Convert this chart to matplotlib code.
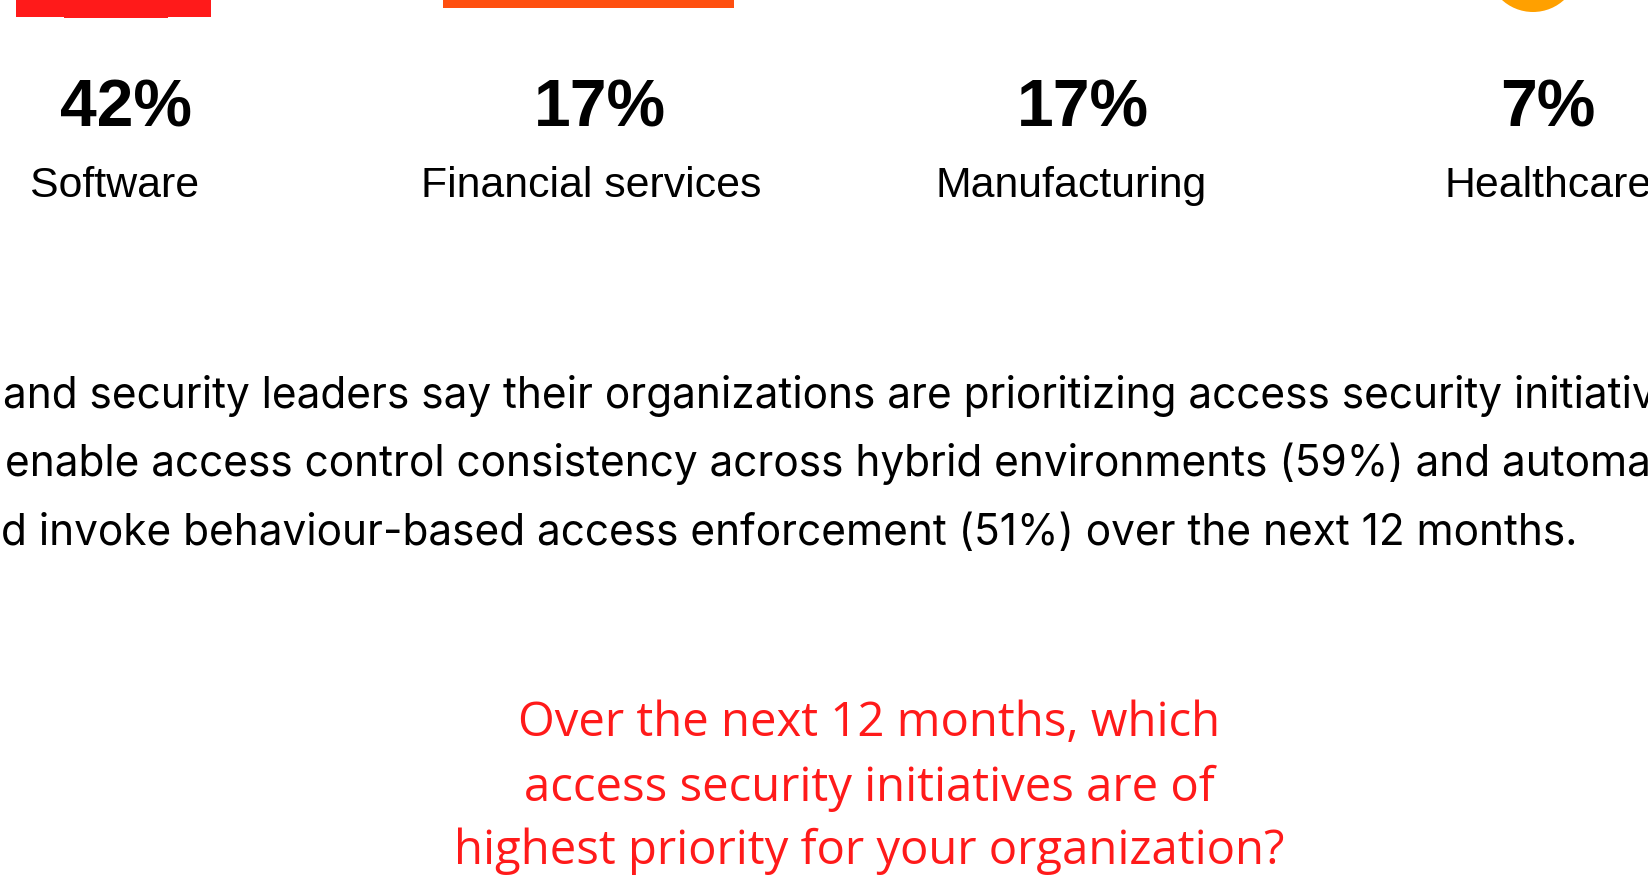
import matplotlib.pyplot as plt
from matplotlib.patches import Rectangle, Circle

# canvas is laid out in pixel units (1649 x 886, y downwards)
W, H = 1649, 886

industries = ["Software", "Financial services", "Manufacturing", "Healthcare"]
shares = [42, 17, 17, 7]
value_x = [126, 600, 1083, 1548]
label_x = [115, 591, 1071, 1548]

body_lines = [
    "and security leaders say their organizations are prioritizing access security initiativ",
    "enable access control consistency across hybrid environments (59%) and automa",
    "d invoke behaviour-based access enforcement (51%) over the next 12 months.",
]
body_x = [3, 5, 1]
body_y = [408, 476, 545]

question_lines = [
    "Over the next 12 months, which",
    "access security initiatives are of",
    "highest priority for your organization?",
]
question_y = [736, 801, 864]

RED = "#FF1A1A"
ORANGE = "#FF4F0F"
AMBER = "#FFA000"

fig = plt.figure(figsize=(W / 100, H / 100), dpi=100)
ax = fig.add_axes([0, 0, 1, 1])
ax.set_xlim(0, W)
ax.set_ylim(H, 0)
ax.axis("off")

# bottoms of the icons cut off by the top edge
ax.add_patch(Rectangle((16, -10), 195, 27, color=RED, lw=0))
ax.add_patch(Rectangle((64, -10), 104, 28, color=RED, lw=0))  # small notch
ax.add_patch(Rectangle((443, -10), 291, 17.5, color=ORANGE, lw=0))
ax.add_patch(Circle((1533, -34), 46, color=AMBER, lw=0))

for vx, lx, name, val in zip(value_x, label_x, industries, shares):
    ax.text(vx, 126, f"{val}%", ha="center", va="baseline", fontsize=47.5,
            fontweight="bold", family="Liberation Sans", color="black")
    ax.text(lx, 197, name, ha="center", va="baseline", fontsize=30.8,
            family="Liberation Sans", color="black")

for x, y, line in zip(body_x, body_y, body_lines):
    ax.text(x, y, line, ha="left", va="baseline", fontsize=30.5,
            family="Inter", color="black")

for y, line in zip(question_y, question_lines):
    ax.text(869, y, line, ha="center", va="baseline", fontsize=34,
            family="Open Sans", color=RED)

fig.savefig("out.png", dpi=100)
